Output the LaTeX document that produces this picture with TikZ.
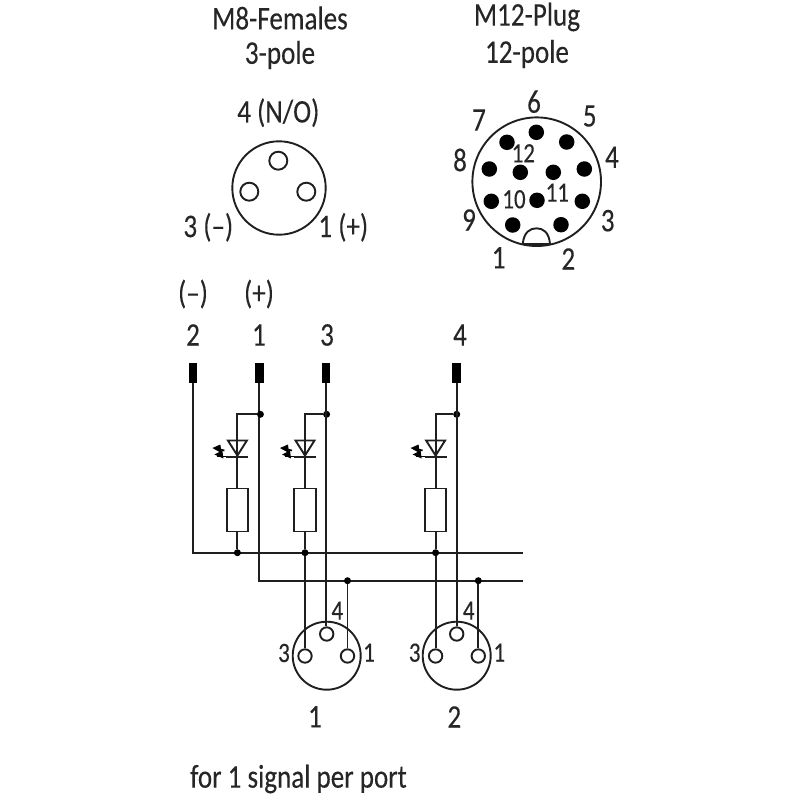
\documentclass[tikz,border=0pt]{standalone}
\usepackage{fontspec}
\setmainfont[FakeStretch=0.82,FakeBold=0.25]{Carlito}
\usetikzlibrary{calc}
\tikzset{
  wire/.style={line width=1.9pt,draw=black!88},
  lab/.style={inner sep=0pt,text=black!85,font=\fontsize{33}{35}\selectfont},
  slab/.style={inner sep=0pt,text=black!85,font=\fontsize{28}{30}\selectfont},
  dotj/.style={circle,fill=black,inner sep=0pt,minimum size=7pt},
  term/.style={rectangle,fill=black,inner sep=0pt,minimum width=8.6pt,minimum height=20pt},
  hole/.style={circle,draw=black!88,line width=1.9pt,fill=white,inner sep=0pt,minimum size=#1},
  pin/.style={circle,fill=black,inner sep=0pt,minimum size=15.5pt},
  shell/.style={circle,draw=black!88,line width=1.9pt,inner sep=0pt,minimum size=#1},
  res/.style={rectangle,draw=black!88,line width=1.9pt,fill=white,inner sep=0pt,minimum width=21.5pt,minimum height=43pt}
}
\newcommand{\ledbranch}[5]{% id, branch x, supply x, supply junction y
  \coordinate (top#1) at (#2,#4);
  \node[dotj] (j#1) at (#3,#4) {};
  \node[res] (r#1) at (#2,510) {};
  \node[dotj] (b#1) at (#2,552.7) {};
  \coordinate (tipu#1) at (#2,440.5);
  \coordinate (tip#1) at (#2,455.5);
  \draw[wire] (j#1) -- (top#1) -- (tip#1);
  \draw[wire] (tip#1) -- (r#1.north);
  \draw[wire] (r#1.south) -- (b#1);
  \draw[wire] ($(tipu#1)+(-9.5,0)$) -- ($(tipu#1)+(9.5,0)$) -- (tip#1) -- cycle;
  \draw[wire] ($(tip#1)+(-11,1.2)$) -- ($(tip#1)+(11,1.2)$);
  \draw[line width=1.7pt,black] ($(tip#1)+(-22,-7)$) -- ($(tip#1)+(-13,-5)$);
  \draw[line width=1.7pt,black] ($(tip#1)+(-20,1)$) -- ($(tip#1)+(-11,1)$);
  \fill[black] ($(tip#1)+(-25,-7.5)$) -- ($(tip#1)+(-17,-11)$) -- ($(tip#1)+(-16,-2.5)$) -- cycle;
  \fill[black] ($(tip#1)+(-23,-1)$) -- ($(tip#1)+(-15,-5)$) -- ($(tip#1)+(-14,3)$) -- cycle;
}
\begin{document}
\begin{tikzpicture}[x=1pt,y=-1pt]
\useasboundingbox (0,0) rectangle (800,800);
% titles
\node[lab] (t1) at (280,18) {M8-Females};
\node[lab] (t2) at (280,55) {3-pole};
\node[lab] (t3) at (527,17) {M12-Plug};
\node[lab] (t4) at (527,54) {12-pole};
% M8 face
\node[shell=93.4pt] (m8) at (279,188) {};
\node[hole=18pt] (m8a) at (278.3,160.7) {};
\node[hole=18pt] (m8b) at (249.3,191.7) {};
\node[hole=18pt] (m8c) at (306.3,191.7) {};
\node[lab] (l4no) at (278.3,112.7) {4 (N/O)};
\node[lab] (l3m) at (208.3,227.3) {3 (--)};
\node[lab] (l1p) at (343.3,227.3) {1 (+)};
% M12 face
\node[shell=128.6pt] (m12) at (536.7,181.7) {};
\draw[wire,fill=white] (522.7,244) .. controls (524,232) and (530,228.3) .. (536.5,228.3) .. controls (543,228.3) and (549,232) .. (550,244) -- cycle;
\foreach \n/\x/\y in {p6/536.3/132.3,p5/566.7/142,p7/507/142.3,p8/489.3/169,p12/520.3/172.3,p11/553.3/172.3,p4/584.3/169,p9/491.3/201.3,p10/537/200.3,p3/582.3/201.3,p1/512.7/225,p2/561/224.7}
  \node[pin] (\n) at (\x,\y) {};
\foreach \n/\x/\y/\t in {a6/534/101.7/6,a5/589.7/116/5,a7/479/120/7,a8/460/160/8,a4/612/157.3/4,a9/469/220/9,a3/607.7/220.7/3,a1/498.7/257.7/1,a2/568.3/259/2}
  \node[lab] (\n) at (\x,\y) {\t};
\foreach \n/\x/\y/\t in {a12/523.3/153.3/12,a10/514/199.3/10,a11/557.3/192.7/11}
  \node[slab] (\n) at (\x,\y) {\t};
% wiring labels
\node[lab] (lm) at (193,294) {(--)};
\node[lab] (lp) at (259,294) {(+)};
\node[lab] (n2) at (193,335) {2};
\node[lab] (n1) at (259,335) {1};
\node[lab] (n3) at (327,335) {3};
\node[lab] (n4) at (460,335) {4};
% terminals
\node[term] (T2) at (192.8,373) {};
\node[term] (T1) at (259.3,373) {};
\node[term] (T3) at (326,373) {};
\node[term] (T4) at (456.7,373) {};
% bus ends
\coordinate (bus1L) at (193,552.7);
\coordinate (bus1R) at (522.7,552.7);
\coordinate (bus2L) at (259.3,580.7);
\coordinate (bus2R) at (522.7,580.7);
\draw[wire] (T2.south -| bus1L) -- (bus1L) -- (bus1R);
\draw[wire] (T1.south) -- (bus2L) -- (bus2R);
% LED branches
\ledbranch{a}{237.4}{260.4}{414.3}{}
\ledbranch{b}{305}{326.6}{414.3}{}
\ledbranch{c}{435.6}{456.7}{414.3}{}
% port shells
\node[shell=68pt] (P1) at (326.7,655.7) {};
\node[shell=68pt] (P2) at (456.7,655.7) {};
\node[hole=13.4pt] (P1a) at (326.7,634) {};
\node[hole=13.4pt] (P1b) at (305,656) {};
\node[hole=13.4pt] (P1c) at (347.5,656) {};
\node[hole=13.4pt] (P2a) at (456.7,634) {};
\node[hole=13.4pt] (P2b) at (435.6,656) {};
\node[hole=13.4pt] (P2c) at (478.3,656) {};
% signal wires
\node[dotj] (k1) at (347.5,580.7) {};
\node[dotj] (k2) at (478.3,580.7) {};
\draw[wire] (T3.south) -- (P1a.north -| T3.south);
\draw[wire] (T4.south) -- (P2a.north);
\draw[wire] (bb) -- (P1b.north);
\draw[wire] (bc) -- (P2b.north);
\draw[wire] (k1) -- (P1c.north);
\draw[wire] (k2) -- (P2c.north);
% port labels
\node[slab] (q4) at (337.3,610.7) {4};
\node[slab] (q3) at (284,653) {3};
\node[slab] (q1) at (369,652.7) {1};
\node[slab] (s4) at (468.7,610.7) {4};
\node[slab] (s3) at (414.7,652.7) {3};
\node[slab] (s1) at (499.3,652.7) {1};
\node[lab] (u1) at (315,716.7) {1};
\node[lab] (u2) at (454.3,717) {2};
\node[lab,anchor=west] (foot) at (190,779) {for 1 signal per port};
\end{tikzpicture}
\end{document}
